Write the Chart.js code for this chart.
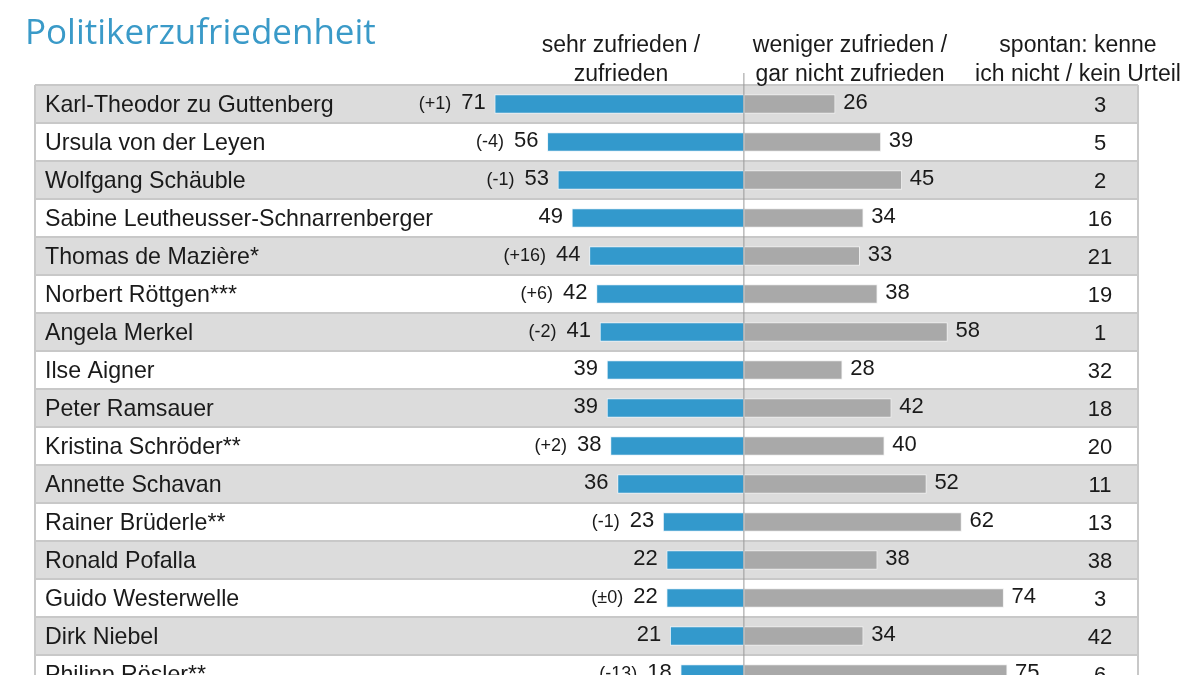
<!DOCTYPE html>
<html>
<head>
<meta charset="utf-8">
<script src="https://cdn.jsdelivr.net/npm/chart.js@4.4.1/dist/chart.umd.min.js"></script>
<style>
  body { margin: 0; background: #fff; overflow: hidden; font-family: "Liberation Sans", Arial, sans-serif; }
  #wrap { position: relative; width: 1200px; height: 675px; overflow: hidden; }
  #chart { position: absolute; left: 0; top: 0; }
  .title { position: absolute; left: 25px; top: 7px; font-family: "Open Sans", sans-serif; font-size: 35px; color: #3a9ac8; }
  .head { position: absolute; top: 30px; font-size: 23px; line-height: 29px; color: #1a1a1a; text-align: center; white-space: nowrap; }
</style>
</head>
<body>
<div id="wrap">
  <canvas id="chart" width="1200" height="720"></canvas>
  <div class="title">Politikerzufriedenheit</div>
  <div class="head" style="left:511px;width:220px">sehr zufrieden /<br>zufrieden</div>
  <div class="head" style="left:730px;width:240px">weniger zufrieden /<br>gar nicht zufrieden</div>
  <div class="head" style="left:958px;width:240px">spontan: kenne<br>ich nicht / kein Urteil</div>
</div>
<script>
const names = ['Karl-Theodor zu Guttenberg', 'Ursula von der Leyen', 'Wolfgang Schäuble',
  'Sabine Leutheusser-Schnarrenberger', 'Thomas de Mazière*', 'Norbert Röttgen***', 'Angela Merkel',
  'Ilse Aigner', 'Peter Ramsauer', 'Kristina Schröder**', 'Annette Schavan', 'Rainer Brüderle**',
  'Ronald Pofalla', 'Guido Westerwelle', 'Dirk Niebel', 'Philipp Rösler**'];
const zufrieden = [71, 56, 53, 49, 44, 42, 41, 39, 39, 38, 36, 23, 22, 22, 21, 18];
const unzufrieden = [26, 39, 45, 34, 33, 38, 58, 28, 42, 40, 52, 62, 38, 74, 34, 75];
const keinUrteil = [3, 5, 2, 16, 21, 19, 1, 32, 18, 20, 11, 13, 38, 3, 42, 6];
const veraenderung = ['(+1)', '(-4)', '(-1)', '', '(+16)', '(+6)', '(-2)', '', '', '(+2)', '', '(-1)', '', '(±0)', '', '(-13)'];

const FONT = '"Liberation Sans", Arial, sans-serif';

const tablePlugin = {
  id: 'table',
  beforeDatasetsDraw(chart) {
    const { ctx, chartArea, scales } = chart;
    const y = scales.y;
    const step = y.getPixelForValue(1) - y.getPixelForValue(0);
    ctx.save();
    names.forEach((n, i) => {
      const top = y.getPixelForValue(i) - step / 2;
      ctx.fillStyle = i % 2 === 0 ? '#dcdcdc' : '#ffffff';
      ctx.fillRect(chartArea.left, top, chartArea.right - chartArea.left, step);
      ctx.strokeStyle = '#c8c8c8';
      ctx.lineWidth = 2;
      ctx.beginPath();
      ctx.moveTo(chartArea.left, top);
      ctx.lineTo(chartArea.right, top);
      ctx.stroke();
    });
    ctx.strokeStyle = '#c8c8c8';
    ctx.lineWidth = 2;
    ctx.beginPath();
    ctx.moveTo(chartArea.left, chartArea.top);
    ctx.lineTo(chartArea.left, chartArea.bottom);
    ctx.moveTo(chartArea.right, chartArea.top);
    ctx.lineTo(chartArea.right, chartArea.bottom);
    ctx.stroke();
    // names
    ctx.fillStyle = '#1a1a1a';
    ctx.font = '23.2px ' + FONT;
    ctx.textBaseline = 'middle';
    ctx.textAlign = 'left';
    names.forEach((n, i) => ctx.fillText(n, chartArea.left + 10, y.getPixelForValue(i) + 2));
    ctx.restore();
  },
  afterDatasetsDraw(chart) {
    const { ctx, chartArea, scales } = chart;
    const y = scales.y;
    const x0 = scales.x.getPixelForValue(0);
    ctx.save();
    ctx.strokeStyle = '#999';
    ctx.lineWidth = 1;
    ctx.beginPath();
    ctx.moveTo(x0, chartArea.top - 12);
    ctx.lineTo(x0, chartArea.bottom);
    ctx.stroke();

    ctx.fillStyle = '#1a1a1a';
    ctx.textBaseline = 'middle';
    const blue = chart.getDatasetMeta(0).data;
    const grey = chart.getDatasetMeta(1).data;
    blue.forEach((bar, i) => {
      ctx.font = '22px ' + FONT;
      ctx.textAlign = 'right';
      const txt = String(zufrieden[i]);
      ctx.fillText(txt, bar.x - 9, bar.y - 1);
      if (veraenderung[i]) {
        const w = ctx.measureText(txt).width;
        ctx.font = '18px ' + FONT;
        ctx.fillText(veraenderung[i], bar.x - 9 - w - 10, bar.y);
      }
    });
    grey.forEach((bar, i) => {
      ctx.font = '22px ' + FONT;
      ctx.textAlign = 'left';
      ctx.fillText(String(unzufrieden[i]), bar.x + 8, bar.y - 1);
      ctx.textAlign = 'center';
      ctx.fillText(String(keinUrteil[i]), 1100, y.getPixelForValue(i) + 2);
    });
    ctx.restore();
  }
};

new Chart(document.getElementById('chart'), {
  type: 'bar',
  data: {
    labels: names,
    datasets: [
      {
        label: 'sehr zufrieden / zufrieden',
        data: zufrieden.map(v => -v),
        backgroundColor: '#3399cc',
        borderColor: '#e8f3fa',
        borderWidth: 1,
        borderSkipped: false,
        barThickness: 19
      },
      {
        label: 'weniger zufrieden / gar nicht zufrieden',
        data: unzufrieden,
        backgroundColor: '#a9a9a9',
        borderColor: '#f0f0f0',
        borderWidth: 1,
        borderSkipped: false,
        barThickness: 19
      }
    ]
  },
  options: {
    indexAxis: 'y',
    responsive: false,
    animation: false,
    layout: { padding: { left: 35, right: 62, top: 85, bottom: 27 } },
    plugins: { legend: { display: false }, tooltip: { enabled: false } },
    scales: {
      x: { display: false, stacked: true, min: -202, max: 112.3 },
      y: { display: false, stacked: true, offset: true }
    }
  },
  plugins: [tablePlugin]
});
</script>
</body>
</html>
